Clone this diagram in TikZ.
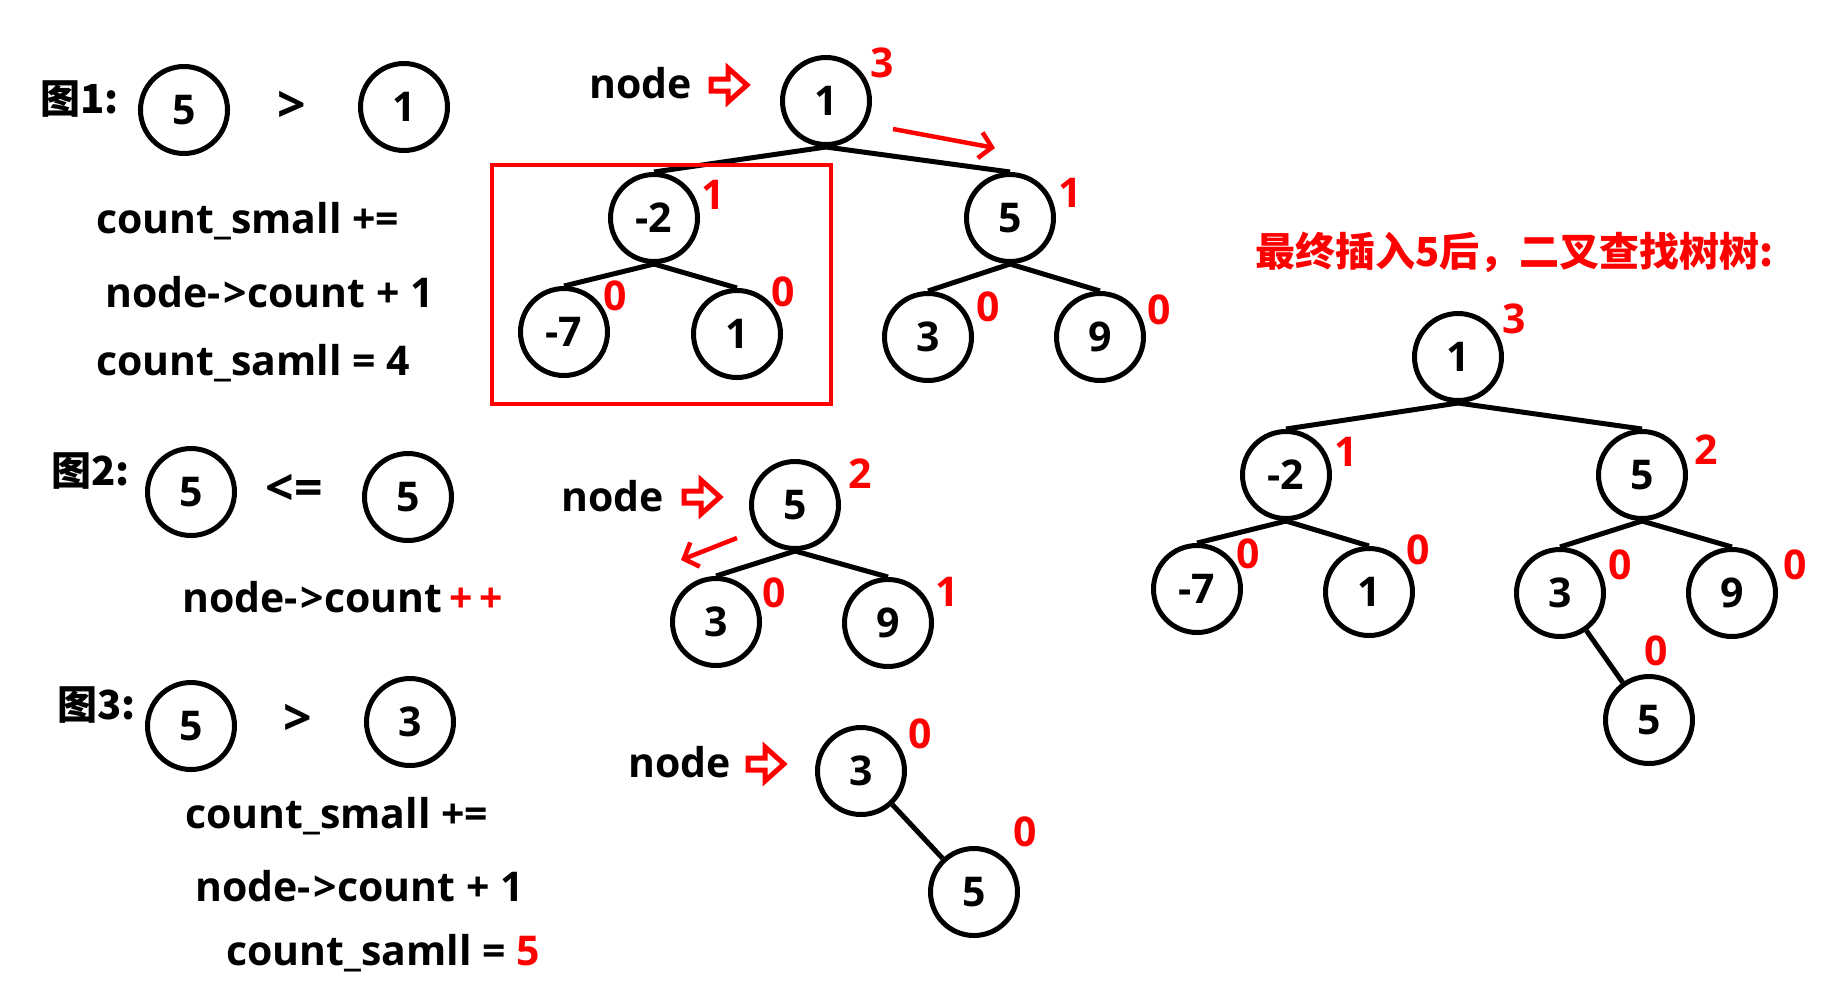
\documentclass[tikz,border=0pt]{standalone}
\usepackage{fontspec}
\setmainfont{Open Sans}
\newfontfamily\cjk{Noto Sans CJK SC}
\usetikzlibrary{arrows.meta}

\begin{document}
\begin{tikzpicture}[x=1pt, y=-1pt, font=\fontsize{41}{50}\selectfont\bfseries,
    bnode/.style={draw, circle, line width=5pt, minimum size=87pt, inner sep=0pt},
    cnt/.style={text=red, inner sep=0pt},
    cmp/.style={font=\fontsize{50}{60}\selectfont\bfseries},
    branch/.style={line width=5pt},
    ptr/.pic={\draw[red, line width=5pt] (-18,-6) -- (-1,-6) -- (-1,-17) -- (18,0)
        -- (-1,17) -- (-1,6) -- (-18,6) -- cycle;},
    walk/.style={draw=red, line width=4.5pt, -{Straight Barb[length=12pt, width=26pt]}},
    fig/.style={anchor=base west, inner sep=0pt, font=\cjk\fontsize{40}{48}\selectfont\bfseries},
    code/.style={anchor=base west, inner sep=0pt}]
    \useasboundingbox (0,0) rectangle (1823,1005);

    % Fig. 1
    \node[fig] at (40,113) (f1) {图1:};
    \node[bnode] at (184,110) (p1) {5};
    \node[cmp] at (292,107) (g1) {>};
    \node[bnode] at (404,107) (p2) {1};
    \node[code] at (96,233) (s1) {count\_small +=};
    \node[code] at (105,307) (s2) {node-\kern3pt>count + 1};
    \node[code] at (96,375) (s3) {count\_samll = 4};

    \node[code] at (589,98) (n1) {node};
    \pic at (729,85) {ptr};
    \node[bnode] at (826,101) (A0) {1};
    \node[bnode] at (654,218) (A1) {-2};
    \node[bnode] at (1010,218) (A2) {5};
    \node[bnode] at (564,332) (A3) {-7};
    \node[bnode] at (737,334) (A4) {1};
    \node[bnode] at (928,337) (A5) {3};
    \node[bnode] at (1100,337) (A6) {9};
    \node[cnt] at (882,63) {3};
    \node[cnt] at (713,195) {1};
    \node[cnt] at (1070,193) {1};
    \node[cnt] at (615,296) {0};
    \node[cnt] at (783,292) {0};
    \node[cnt] at (988,307) {0};
    \node[cnt] at (1159,310) {0};

    \draw[branch] (A0.south) -- (A1.north);
    \draw[branch] (A0.south) -- (A2.north);
    \draw[branch] (A1.south) -- (A3.north);
    \draw[branch] (A1.south) -- (A4.north);
    \draw[branch] (A2.south) -- (A5.north);
    \draw[branch] (A2.south) -- (A6.north);
    \draw[red, line width=4pt] (492,165) rectangle (831,404);
    \coordinate (m1) at (893,129);
    \coordinate (m2) at (995,148);
    \draw[walk] (m1) -- (m2);

    % Fig. 2
    \node[fig] at (51,485) (f2) {图2:};
    \node[bnode] at (191,492) (p3) {5};
    \node[cmp] at (294,490) (g2) {<=};
    \node[bnode] at (408,497) (p4) {5};
    \node[code] at (182,612) (s4) {node-\kern3pt>count\,\textcolor{red}{+\,+}};

    \node[code] at (561,511) (n2) {node};
    \pic at (702,497) {ptr};
    \node[bnode] at (795,505) (B0) {5};
    \node[bnode] at (716,622) (B1) {3};
    \node[bnode] at (888,623) (B2) {9};
    \node[cnt] at (860,474) {2};
    \node[cnt] at (774,593) {0};
    \node[cnt] at (947,592) {1};

    \draw[branch] (B0.south) -- (B1.north);
    \draw[branch] (B0.south) -- (B2.north);
    \coordinate (m3) at (737,538);
    \coordinate (m4) at (681,560);
    \draw[walk] (m3) -- (m4);

    % Fig. 3
    \node[fig] at (57,719) (f3) {图3:};
    \node[bnode] at (191,726) (p5) {5};
    \node[cmp] at (298,720) (g3) {>};
    \node[bnode] at (410,722) (p6) {3};
    \node[code] at (185,828) (s5) {count\_small +=};
    \node[code] at (195,901) (s6) {node-\kern3pt>count + 1};
    \node[code] at (226,965) (s7) {count\_samll = \textcolor{red}{5}};

    \node[code] at (628,777) (n3) {node};
    \pic at (766,764) {ptr};
    \node[bnode] at (861,771) (C0) {3};
    \node[bnode] at (974,892) (C1) {5};
    \node[cnt] at (920,734) {0};
    \node[cnt] at (1025,832) {0};

    \draw[branch] (C0) -- (C1);

    % final tree
    \node[anchor=base west, inner sep=0pt, text=red, font=\cjk\fontsize{40}{48}\selectfont\bfseries]
        at (1255,266) (title) {最终插入5后，二叉查找树树:};
    \node[bnode] at (1458,357) (D0) {1};
    \node[bnode] at (1286,475) (D1) {-2};
    \node[bnode] at (1642,475) (D2) {5};
    \node[bnode] at (1197,589) (D3) {-7};
    \node[bnode] at (1369,592) (D4) {1};
    \node[bnode] at (1560,593) (D5) {3};
    \node[bnode] at (1732,593) (D6) {9};
    \node[bnode] at (1649,720) (D7) {5};
    \node[cnt] at (1514,319) {3};
    \node[cnt] at (1346,452) {1};
    \node[cnt] at (1706,450) {2};
    \node[cnt] at (1248,554) {0};
    \node[cnt] at (1418,550) {0};
    \node[cnt] at (1620,565) {0};
    \node[cnt] at (1795,565) {0};
    \node[cnt] at (1656,651) {0};

    \draw[branch] (D0.south) -- (D1.north);
    \draw[branch] (D0.south) -- (D2.north);
    \draw[branch] (D1.south) -- (D3.north);
    \draw[branch] (D1.south) -- (D4.north);
    \draw[branch] (D2.south) -- (D5.north);
    \draw[branch] (D2.south) -- (D6.north);
    \draw[branch] (D5) -- (D7);
\end{tikzpicture}
\end{document}
